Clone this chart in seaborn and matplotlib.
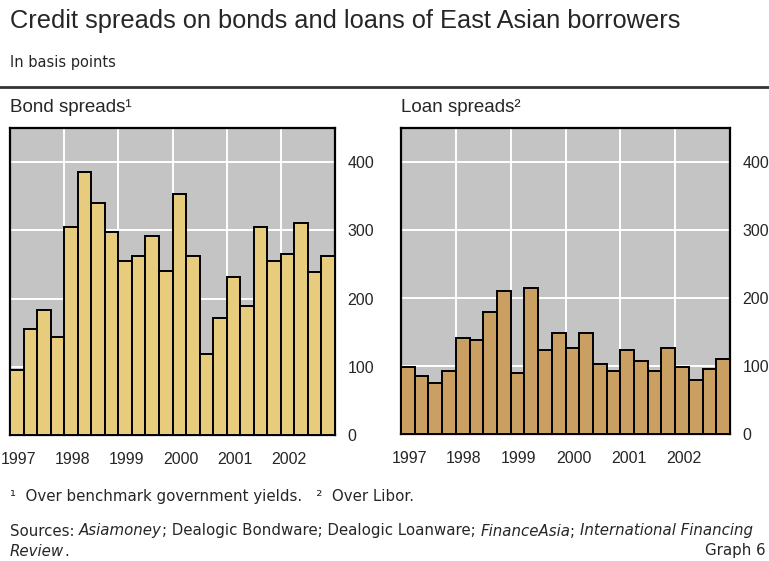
import numpy as np
import pandas as pd
import seaborn as sns
import matplotlib.pyplot as plt

# Quarterly data, 1997 Q1 to 2002 Q4
years = ['1997', '1998', '1999', '2000', '2001', '2002']
quarters = [f"{y}Q{q}" for y in years for q in range(1, 5)]

bond_spreads = [95, 155, 183, 144, 305, 385, 340, 297, 255, 263, 291, 241,
                353, 263, 119, 172, 231, 189, 305, 255, 266, 311, 239, 263]
loan_spreads = [99, 85, 75, 93, 141, 138, 179, 210, 89, 214, 124, 148,
                126, 148, 103, 93, 124, 107, 93, 126, 99, 79, 96, 110]

df = pd.DataFrame({'quarter': quarters, 'bond': bond_spreads, 'loan': loan_spreads})

sns.set_style("darkgrid", {'axes.facecolor': '#c4c4c4', 'grid.color': 'white'})
plt.rcParams['font.family'] = ['Liberation Sans', 'DejaVu Sans']

fig = plt.figure(figsize=(7.69, 5.61), dpi=100)
W, H = 769, 561


def fx(px):
    return px / W


def fy(py):
    return 1 - py / H


panels = [
    ('bond', '#e8cc7e', 'Bond spreads\u00b9', (10, 128, 335, 435)),
    ('loan', '#c9a062', 'Loan spreads\u00b2', (401, 128, 730, 434)),
]

for col, colour, title, (x0, y0, x1, y1) in panels:
    ax = fig.add_axes([fx(x0), fy(y1), (x1 - x0) / W, (y1 - y0) / H])
    sns.barplot(data=df, x='quarter', y=col, order=quarters, color=colour,
                width=1.0, edgecolor='black', linewidth=1.4, saturation=1,
                ax=ax, zorder=3)
    ax.set_xlim(-0.5, len(quarters) - 0.5)
    ax.set_ylim(0, 450)
    # year gridlines at the start of each year
    ax.set_xticks([i * 4 - 0.5 for i in range(1, len(years))])
    ax.set_xticklabels([])
    ax.set_xticks([i * 4 + 0.1 for i in range(len(years))], minor=True)
    ax.set_xticklabels(years, minor=True, fontsize=11.5)
    ax.tick_params(axis='x', which='both', length=0, pad=12)
    ax.set_yticks([0, 100, 200, 300, 400])
    ax.yaxis.tick_right()
    ax.tick_params(axis='y', length=0, pad=9, labelsize=11.5)
    ax.grid(True, which='major', color='white', linewidth=1.4, zorder=0)
    ax.set_xlabel('')
    ax.set_ylabel('')
    for s in ax.spines.values():
        s.set_visible(True)
        s.set_color('black')
        s.set_linewidth(1.6)
    fig.text(fx(x0), fy(108), title, fontsize=13.5, va='center', ha='left')

# Header
fig.text(fx(10), fy(21), 'Credit spreads on bonds and loans of East Asian borrowers',
         fontsize=18.3, va='center', ha='left')
fig.text(fx(10), fy(63), 'In basis points', fontsize=10.5, va='center', ha='left',
         family='DejaVu Sans')
fig.add_artist(plt.Line2D([0, 1], [fy(87), fy(87)], color='#333333', linewidth=2))

# Footnotes
fig.text(fx(10), fy(496), '\u00b9  Over benchmark government yields.   \u00b2  Over Libor.',
         fontsize=10.8, va='center', ha='left', family='DejaVu Sans')

renderer = fig.canvas.get_renderer()


def write_segments(x_px, y_px, segments):
    x = x_px
    for txt, style in segments:
        t = fig.text(fx(x), fy(y_px), txt, fontsize=10.8, style=style,
                     va='center', ha='left', family='DejaVu Sans')
        bb = t.get_window_extent(renderer=renderer)
        x += bb.width


write_segments(10, 531, [('Sources: ', 'normal'), ('Asiamoney', 'italic'),
                         ('; Dealogic Bondware; Dealogic Loanware; ', 'normal'),
                         ('FinanceAsia', 'italic'), ('; ', 'normal'),
                         ('International Financing', 'italic')])
write_segments(10, 551, [('Review', 'italic'), ('.', 'normal')])
fig.text(fx(766), fy(551), 'Graph 6', fontsize=10.8, va='center', ha='right',
         family='DejaVu Sans')

fig.savefig('out.png', dpi=100)
